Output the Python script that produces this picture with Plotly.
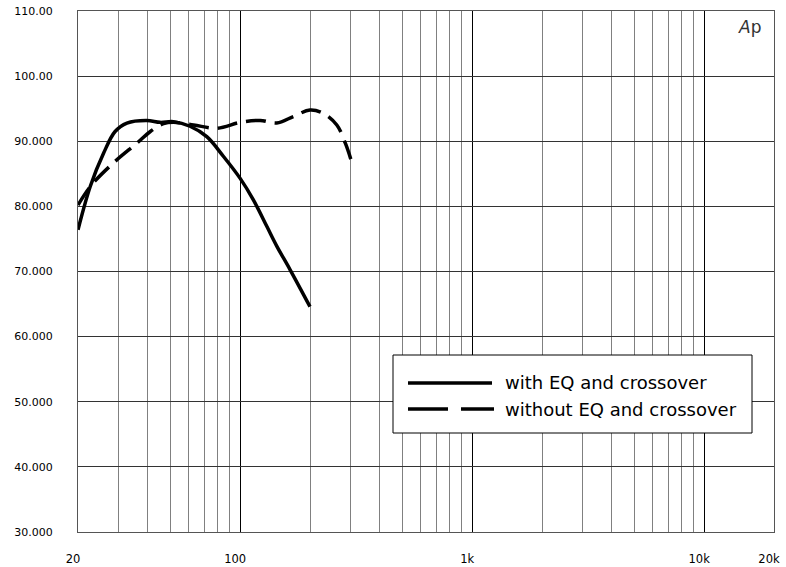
import plotly.graph_objects as go

# ---- data ----
freq_eq = [20, 22.6, 25.8, 28.9, 32.5, 39.6, 45.2, 51.6, 60.8, 71.8, 84.6, 100, 114, 130.4, 143.8, 164, 200]
spl_eq = [76.4, 83.1, 88.2, 91.5, 92.8, 93.2, 92.9, 93.0, 92.3, 90.7, 87.7, 84.3, 81.0, 76.9, 73.9, 70.3, 64.6]

freq_raw = [20, 22.9, 28.9, 35.9, 41, 46.7, 51.6, 63, 79.4, 100, 122, 143.8, 169.6, 200, 228, 261, 284, 302]
spl_raw = [80.2, 83.3, 86.9, 89.7, 91.5, 92.7, 92.9, 92.5, 92.0, 92.9, 93.2, 92.8, 93.8, 94.8, 94.3, 92.5, 89.7, 86.9]

names = ["with EQ and crossover", "without EQ and crossover"]

x_tickvals = [20, 100, 1000, 10000, 20000]
x_ticktext = ["20", "100", "1k", "10k", "20k"]
x_minor = [30, 40, 50, 60, 70, 80, 90, 200, 300, 400, 500, 600, 700, 800, 900,
           2000, 3000, 4000, 5000, 6000, 7000, 8000, 9000]
y_tickvals = [30, 40, 50, 60, 70, 80, 90, 100, 110]
y_ticktext = ["30.000", "40.000", "50.000", "60.000", "70.000", "80.000", "90.000", "100.00", "110.00"]

FONT = "DejaVu Sans"

fig = go.Figure()
fig.add_trace(go.Scatter(x=freq_eq, y=spl_eq, mode="lines", name=names[0],
                         line=dict(color="black", width=3.5, shape="spline"), showlegend=False))
fig.add_trace(go.Scatter(x=freq_raw, y=spl_raw, mode="lines", name=names[1],
                         line=dict(color="black", width=3.5, shape="spline", dash="20px,9px"), showlegend=False))

# manual legend box (paper coordinates derived from pixel layout)
W, H = 786, 567
L, R, T, B = 78, 12, 11, 35
pw, ph = W - L - R, H - T - B
def px(x):
    return (x - L) / pw
def py(y):
    return 1 - (y - T) / ph

shapes = [
    dict(type="rect", xref="paper", yref="paper", x0=px(393), x1=px(752), y0=py(433), y1=py(355),
         line=dict(color="black", width=1), fillcolor="white", layer="above"),
    dict(type="line", xref="paper", yref="paper", x0=px(408), x1=px(492), y0=py(383), y1=py(383),
         line=dict(color="black", width=3.5), layer="above"),
    dict(type="line", xref="paper", yref="paper", x0=px(408), x1=px(494), y0=py(409), y1=py(409),
         line=dict(color="black", width=3.5, dash="40px,13px"), layer="above"),
]
annotations = [
    dict(xref="paper", yref="paper", x=px(503), y=py(383), text=names[0], showarrow=False,
         xanchor="left", yanchor="middle", font=dict(family=FONT, size=18, color="black")),
    dict(xref="paper", yref="paper", x=px(503), y=py(409), text=names[1], showarrow=False,
         xanchor="left", yanchor="middle", font=dict(family=FONT, size=18, color="black")),
    dict(xref="paper", yref="paper", x=px(749), y=py(27), text="<i>A</i>p", showarrow=False,
         xanchor="center", yanchor="middle", font=dict(family=FONT, size=17, color="#333")),
]

fig.update_layout(
    width=W, height=H,
    margin=dict(l=L, r=R, t=T, b=B, autoexpand=False),
    paper_bgcolor="white", plot_bgcolor="white",
    shapes=shapes, annotations=annotations,
    xaxis=dict(type="log", range=[1.30103, 4.30103], automargin=False,
               tickvals=x_tickvals, ticktext=x_ticktext,
               showgrid=True, gridcolor="black", gridwidth=1,
               minor=dict(tickvals=x_minor, showgrid=True, gridcolor="#808080", gridwidth=1),
               showline=True, linecolor="#555", linewidth=1, mirror=True,
               ticks="", ticklabelstandoff=16, ticklabelshift=-5,
               tickfont=dict(family=FONT, size=11.5, color="black"), zeroline=False),
    yaxis=dict(range=[30, 110], tickvals=y_tickvals, ticktext=y_ticktext, automargin=False,
               showgrid=True, gridcolor="#333", gridwidth=1,
               showline=True, linecolor="#555", linewidth=1, mirror=True,
               ticks="", ticklabelstandoff=22,
               tickfont=dict(family=FONT, size=11, color="black"), zeroline=False),
)

fig.write_html("out.html", config={"displayModeBar": False},
               post_script="document.body.style.margin='0';")
